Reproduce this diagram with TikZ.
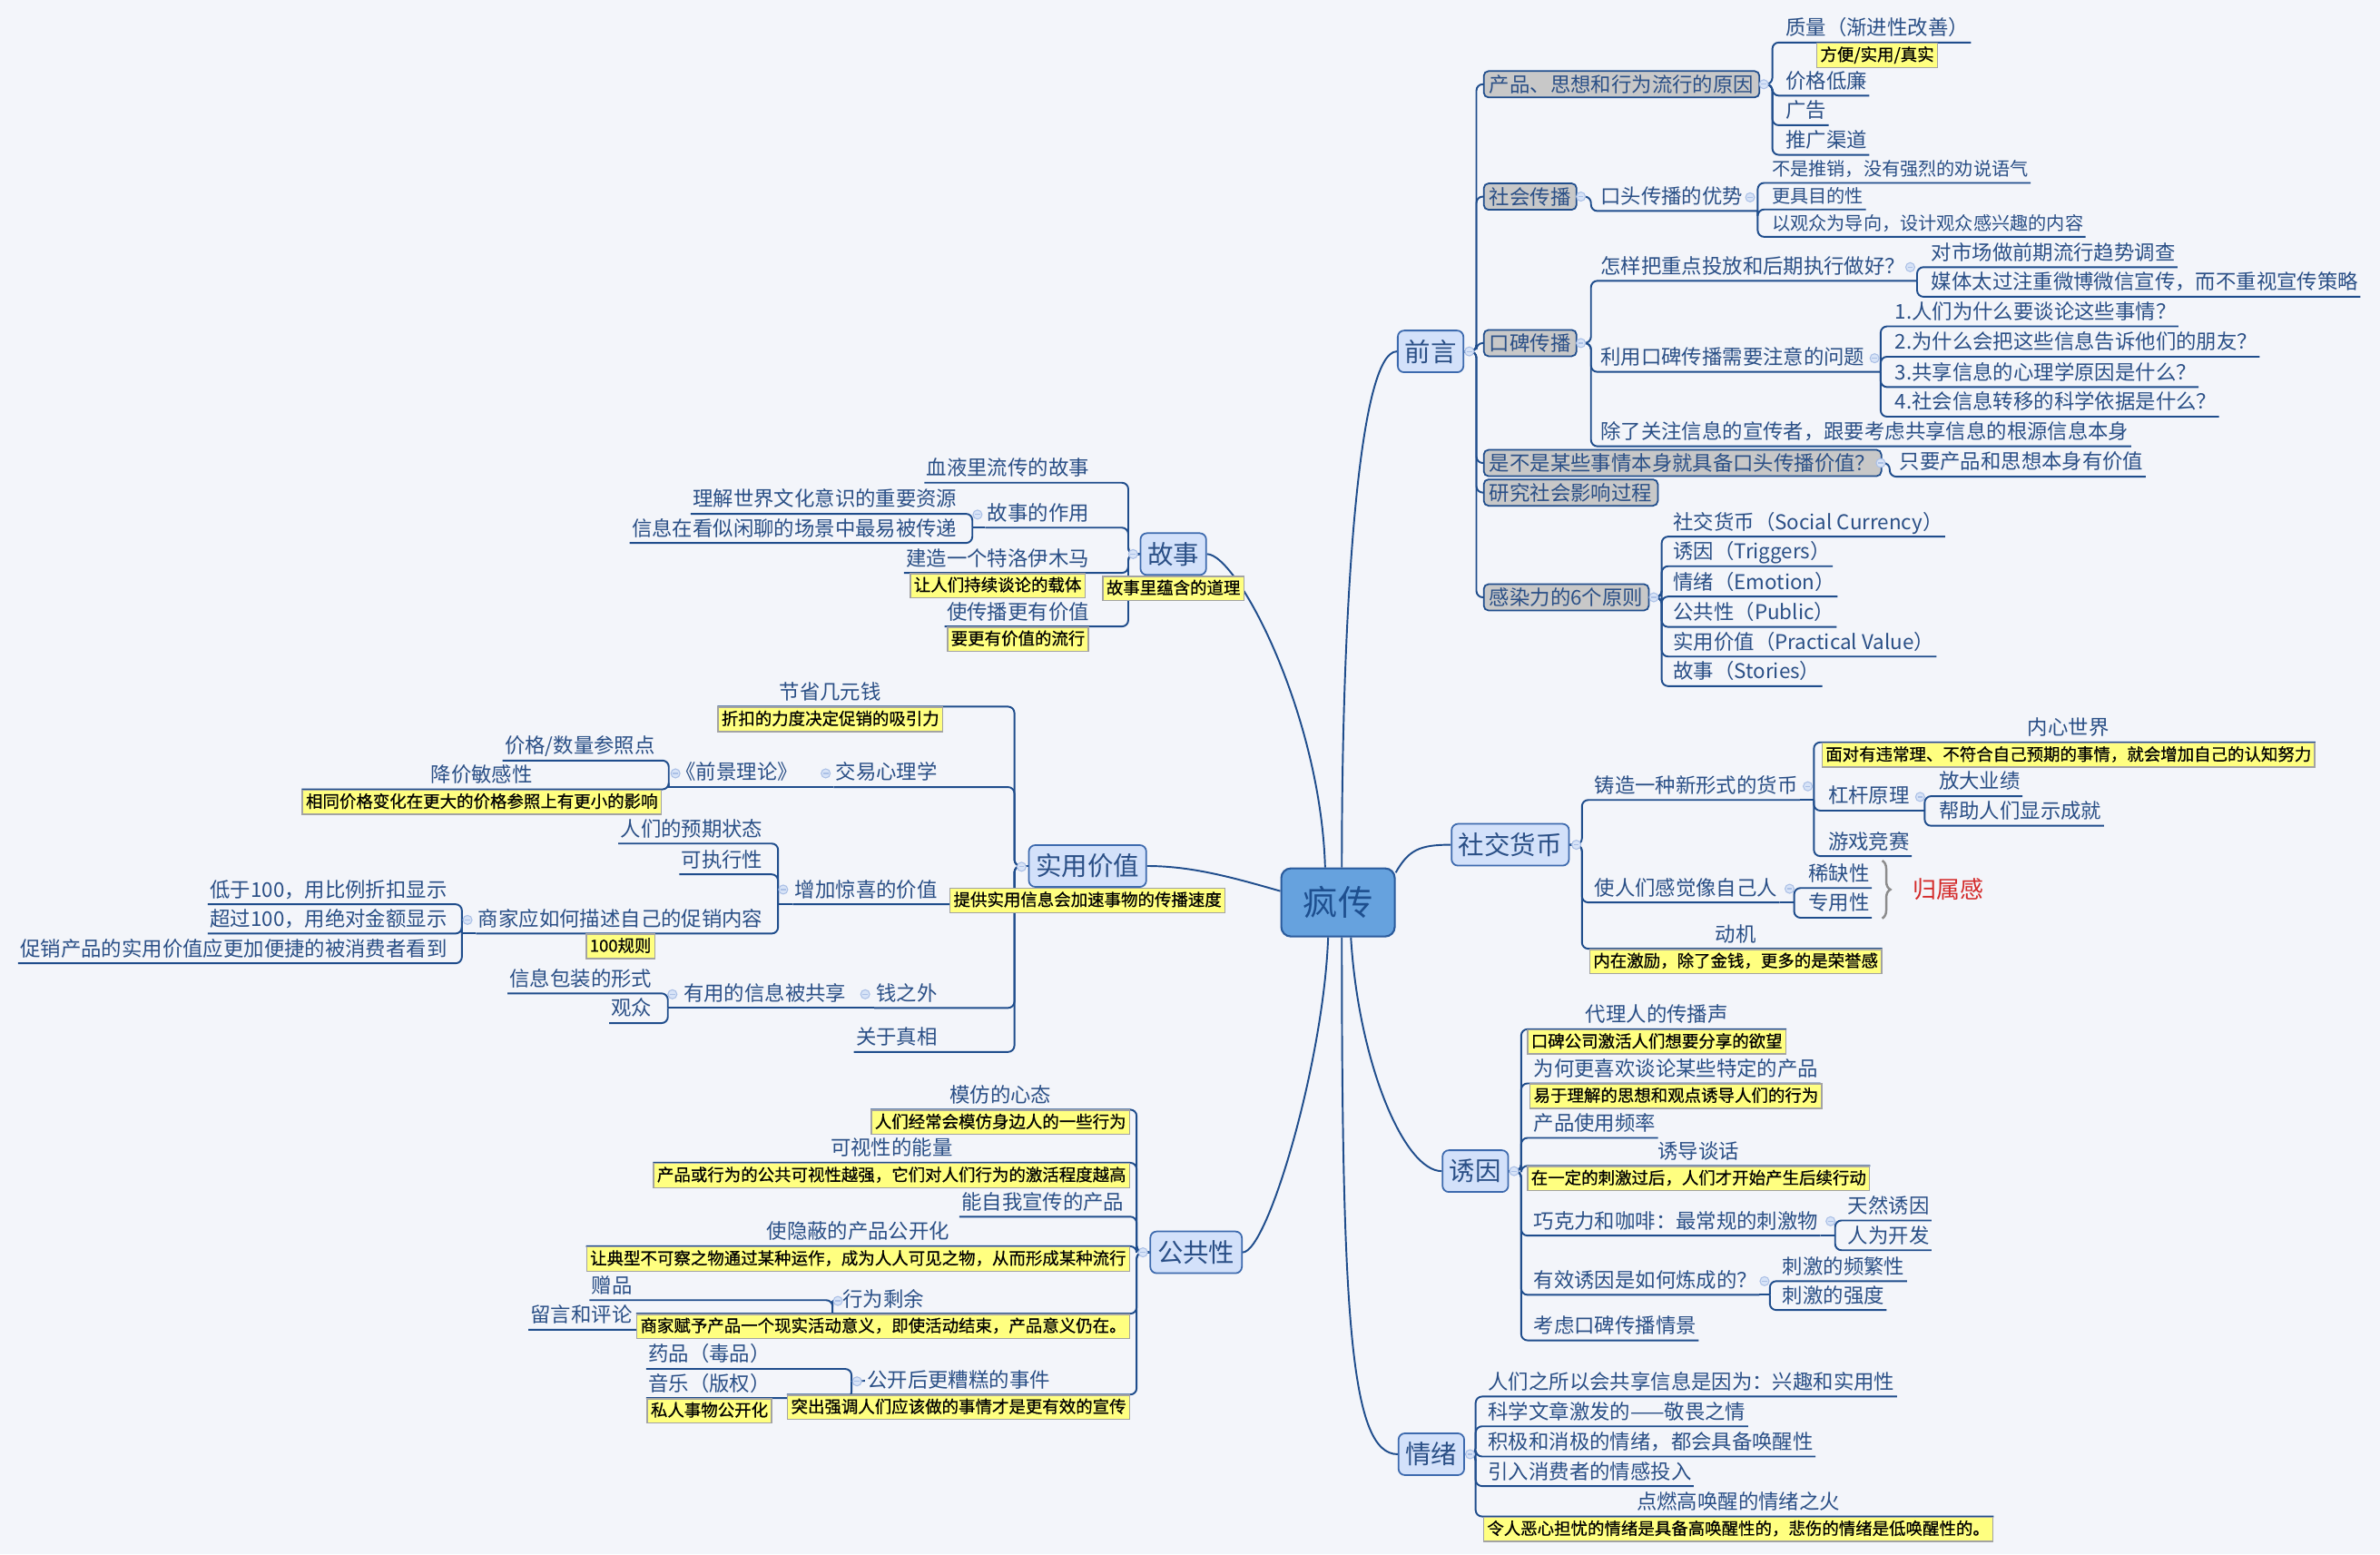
\documentclass[tikz,border=0pt]{standalone}
\usepackage{fontspec}
\setmainfont{Noto Sans CJK SC}
\newfontfamily\notefont{Noto Sans CJK SC}[FakeBold=0.6]
\usetikzlibrary{positioning, backgrounds, decorations.pathreplacing}

\definecolor{paper}{HTML}{F3F5FA}
\definecolor{linkc}{HTML}{1F4D8C}
\definecolor{ink}{HTML}{2A4F86}
\definecolor{topicfill}{HTML}{D3E1FA}
\definecolor{topicedge}{HTML}{3D6AAE}
\definecolor{rootfill}{HTML}{66A2DE}
\definecolor{rootedge}{HTML}{2A5B9C}
\definecolor{rootink}{HTML}{1E4F8F}
\definecolor{sectfill}{HTML}{C8C8C8}
\definecolor{notefill}{HTML}{FFFF80}
\definecolor{noteedge}{HTML}{A3A3A3}
\definecolor{foldfill}{HTML}{D7E3F7}
\definecolor{foldedge}{HTML}{ABC0E6}
\definecolor{bracec}{HTML}{8C8C8C}
\definecolor{kinred}{HTML}{D42A2A}

\tikzset{
  % boxes
  root/.style    = {draw=rootedge, fill=rootfill, rounded corners=3pt, text=rootink, line width=0.6pt,
                    font=\fontsize{10.9}{12}\selectfont, minimum width=1.25cm, minimum height=0.75cm},
  topic/.style   = {draw=topicedge, fill=topicfill, rounded corners=2pt, text=ink, line width=0.5pt,
                    font=\fontsize{8.1}{9}\selectfont, inner xsep=2.2pt, inner ysep=0pt, minimum height=0.46cm},
  section/.style = {draw=linkc, fill=sectfill, rounded corners=1.5pt, text=ink, line width=0.5pt, anchor=west,
                    font=\fontsize{6.37}{7}\selectfont, inner xsep=1.8pt, inner ysep=0pt, minimum height=0.29cm},
  note/.style    = {draw=noteedge, fill=notefill, text=black, line width=0.4pt,
                    font=\notefont\fontsize{5.25}{6}\selectfont, text height=4.3pt, text depth=0.9pt,
                    inner xsep=1.1pt, inner ysep=0pt, minimum height=0.267cm},
  % texts sitting on a line
  item/.style    = {text=ink, font=\fontsize{6.37}{7}\selectfont, text height=5.2pt, text depth=1.2pt,
                    inner xsep=0.5pt, inner ysep=0.9pt},
  ritem/.style   = {item, anchor=south west},
  litem/.style   = {item, anchor=south east},
  minor/.style   = {font=\fontsize{5.74}{6.5}\selectfont, text height=4.7pt, text depth=1.1pt},
  kin/.style     = {text=kinred, font=\fontsize{7.4}{8}\selectfont, inner sep=0pt},
  % lines
  link/.style    = {draw=linkc, line width=0.55pt, rounded corners=2pt},
  trunk/.style   = {draw=linkc, line width=0.55pt},
  curly/.style   = {draw=bracec, line width=0.7pt, decorate, decoration={brace, amplitude=0.09cm}},
  fold/.style    = {draw=foldedge, fill=foldfill, line width=0.3pt},
  foldbar/.style = {draw=foldedge, line width=0.35pt},
}

\begin{document}
\begin{tikzpicture}[x=0.01672cm, y=-0.01672cm]
\useasboundingbox (0,0) rectangle (1568,1024);
\begin{scope}[on background layer]
  \fill[paper] (0,0) rectangle (1568,1024);
\end{scope}

% ---------- Centre + main topics ----------
\node[root] (root) at (881.5,594.5) {疯传};

\node[topic] (intro)     at (942.5,231.5) {前言};
\node[topic] (currency)  at (995,556.5)   {社交货币};
\node[topic] (trigger)   at (972,771.5)   {诱因};
\node[topic] (emotion)   at (943,958)     {情绪};
\node[topic] (story)     at (773,365)     {故事};
\node[topic] (practical) at (716.5,570.5) {实用价值};
\node[topic] (public)    at (788,825)     {公共性};
\node[note, below=0pt of story]     (story-n)     {故事里蕴含的道理};
\node[note, below=0pt of practical] (practical-n) {提供实用信息会加速事物的传播速度};

% ---------- 前言 ----------
\node[section] (why)    at (977,55.5)  {产品、思想和行为流行的原因};
\node[section] (social) at (977,129.5) {社会传播};
\node[section] (wom)    at (977,226)   {口碑传播};
\node[section] (worth)  at (977,305)   {是不是某些事情本身就具备口头传播价值？};
\node[section] (study)  at (977,324.5) {研究社会影响过程};
\node[section] (six)    at (977,393.5) {感染力的6个原则};

\node[ritem] (quality) at (1175,28)   {质量（渐进性改善）};
\node[note, below=0pt of quality] (quality-n) {方便/实用/真实};
\node[ritem] (cheap)   at (1175,63)   {价格低廉};
\node[ritem] (advert)  at (1175,82.5) {广告};
\node[ritem] (channel) at (1175,102)  {推广渠道};

\node[ritem] (oral) at (1053,139) {口头传播的优势};
\coordinate (oral-x) at (1158,139);
\node[ritem, minor] (nopush)   at (1166,120.5) {不是推销，没有强烈的劝说语气};
\node[ritem, minor] (purpose)  at (1166,138)   {更具目的性};
\node[ritem, minor] (audience) at (1166,156)   {以观众为导向，设计观众感兴趣的内容};

\node[ritem] (how) at (1053,185) {怎样把重点投放和后期执行做好？};
\coordinate (how-x) at (1263,185);
\node[ritem] (survey) at (1271,176)   {对市场做前期流行趋势调查};
\node[ritem] (media)  at (1271,195.5) {媒体太过注重微博微信宣传，而不重视宣传策略};
\node[ritem] (issue) at (1053,245) {利用口碑传播需要注意的问题};
\coordinate (issue-x) at (1239,245);
\node[ritem] (q1) at (1247,215)   {1.人们为什么要谈论这些事情？};
\node[ritem] (q2) at (1247,235)   {2.为什么会把这些信息告诉他们的朋友？};
\node[ritem] (q3) at (1247,255)   {3.共享信息的心理学原因是什么？};
\node[ritem] (q4) at (1247,274.5) {4.社会信息转移的科学依据是什么？};
\node[ritem] (source) at (1053,294) {除了关注信息的宣传者，跟要考虑共享信息的根源信息本身};
\node[ritem] (valued) at (1250,314) {只要产品和思想本身有价值};

\node[ritem] (sc) at (1101,353.5) {社交货币（Social Currency）};
\node[ritem] (tr) at (1101,373)   {诱因（Triggers）};
\node[ritem] (em) at (1101,393)   {情绪（Emotion）};
\node[ritem] (pu) at (1101,413)   {公共性（Public）};
\node[ritem] (pv) at (1101,432.5) {实用价值（Practical Value）};
\node[ritem] (st) at (1101,452)   {故事（Stories）};

% ---------- 社交货币 ----------
\node[ritem] (mint) at (1049,527) {铸造一种新形式的货币};
\coordinate (mint-x) at (1195,527);
\node[note, anchor=north west] (inner-n) at (1200,489) {面对有违常理、不符合自己预期的事情，就会增加自己的认知努力};
\node[item, above=0pt of inner-n] (inner) {内心世界};
\node[ritem] (lever) at (1203,534) {杠杆原理};
\coordinate (lever-x) at (1268,534);
\node[ritem] (amplify) at (1276,524.5) {放大业绩};
\node[ritem] (show)    at (1276,544)   {帮助人们显示成就};
\node[ritem] (game) at (1203,564) {游戏竞赛};
\node[ritem] (insider) at (1049,594.5) {使人们感觉像自己人};
\coordinate (insider-x) at (1182,594.5);
\node[ritem] (scarce)    at (1190,585)   {稀缺性};
\node[ritem] (exclusive) at (1190,604.6) {专用性};
\node[kin] (belong) at (1283.5,586) {归属感};
\node[note, anchor=north west] (motive-n) at (1047,625) {内在激励，除了金钱，更多的是荣誉感};
\node[item, above=0pt of motive-n] (motive) {动机};

% ---------- 诱因 ----------
\node[note, anchor=north west] (proxy-n) at (1006,678) {口碑公司激活人们想要分享的欲望};
\node[item, above=0pt of proxy-n] (proxy) {代理人的传播声};
\node[ritem] (talk) at (1009,713.7) {为何更喜欢谈论某些特定的产品};
\node[note, below=0pt of talk] (talk-n) {易于理解的思想和观点诱导人们的行为};
\node[ritem] (freq) at (1009,749.6) {产品使用频率};
\node[note, anchor=north west] (induce-n) at (1006,768) {在一定的刺激过后，人们才开始产生后续行动};
\node[item, above=0pt of induce-n] (induce) {诱导谈话};
\node[ritem] (choco) at (1009,814) {巧克力和咖啡：最常规的刺激物};
\coordinate (choco-x) at (1209,814);
\node[ritem] (natural) at (1216,804)   {天然诱因};
\node[ritem] (made)    at (1216,823.6) {人为开发};
\node[ritem] (effect) at (1009,853) {有效诱因是如何炼成的？};
\coordinate (effect-x) at (1166,853);
\node[ritem] (often)  at (1173,844) {刺激的频繁性};
\node[ritem] (strong) at (1173,863) {刺激的强度};
\node[ritem] (scene) at (1009,883) {考虑口碑传播情景};

% ---------- 情绪 ----------
\node[ritem] (share)   at (979,920)   {人们之所以会共享信息是因为：兴趣和实用性};
\node[ritem] (awe)     at (979,939.6) {科学文章激发的——敬畏之情};
\node[ritem] (arousal) at (979,959.5) {积极和消极的情绪，都会具备唤醒性};
\node[ritem] (invest)  at (979,979)   {引入消费者的情感投入};
\node[note, anchor=north west] (fire-n) at (977,999) {令人恶心担忧的情绪是具备高唤醒性的，悲伤的情绪是低唤醒性的。};
\node[item, above=0pt of fire-n] (fire) {点燃高唤醒的情绪之火};

% ---------- 故事 ----------
\node[litem] (blood) at (719,318) {血液里流传的故事};
\node[litem] (role)  at (719,347.6) {故事的作用};
\coordinate (role-x) at (640.6,347.6);
\node[litem] (culture) at (632,338.5) {理解世界文化意识的重要资源};
\node[litem] (chat)    at (632,357.7) {信息在看似闲聊的场景中最易被传递};
\node[litem] (trojan) at (719,377.4) {建造一个特洛伊木马};
\node[note, below=0pt of trojan] (trojan-n) {让人们持续谈论的载体};
\node[litem] (value) at (719,412.7) {使传播更有价值};
\node[note, below=0pt of value] (value-n) {要更有价值的流行};

% ---------- 实用价值 ----------
\node[note, anchor=north east] (save-n) at (621.5,465.5) {折扣的力度决定促销的吸引力};
\node[item, above=0pt of save-n] (save) {节省几元钱};
\node[litem] (trade) at (619,518.5) {交易心理学};
\coordinate (trade-x) at (543.6,518.5);
\node[litem] (prospect) at (527,518.5) {《前景理论》};
\coordinate (prospect-x) at (440.6,518.5);
\node[litem] (refpoint) at (433,501) {价格/数量参照点};
\node[note, anchor=north east] (sensitive-n) at (436,520) {相同价格变化在更大的价格参照上有更小的影响};
\node[item, above=0pt of sensitive-n] (sensitive) {降价敏感性};
\node[litem] (surprise) at (619,595.7) {增加惊喜的价值};
\coordinate (surprise-x) at (512.6,595.7);
\node[litem] (expect)   at (504,555.7) {人们的预期状态};
\node[litem] (doable)   at (504,576)   {可执行性};
\node[litem] (describe) at (504,615)   {商家应如何描述自己的促销内容};
\node[note, below=0pt of describe] (describe-n) {100规则};
\coordinate (describe-x) at (304.3,615);
\node[litem] (below100) at (296,595.7) {低于100，用比例折扣显示};
\node[litem] (above100) at (296,615)   {超过100，用绝对金额显示};
\node[litem] (visible)  at (296,634.6) {促销产品的实用价值应更加便捷的被消费者看到};
\node[litem] (beyond) at (619,664) {钱之外};
\coordinate (beyond-x) at (570,664);
\node[litem] (useful) at (559,664) {有用的信息被共享};
\coordinate (useful-x) at (440,664);
\node[litem] (pack)   at (431,654.4) {信息包装的形式};
\node[litem] (viewer) at (431,674)   {观众};
\node[litem] (truth) at (619,693) {关于真相};

% ---------- 公共性 ----------
\node[note, anchor=north east] (imitate-n) at (744.6,731) {人们经常会模仿身边人的一些行为};
\node[item, above=0pt of imitate-n] (imitate) {模仿的心态};
\node[note, anchor=north east] (visib-n) at (744.6,766) {产品或行为的公共可视性越强，它们对人们行为的激活程度越高};
\node[item, above=0pt of visib-n] (visib) {可视性的能量};
\node[litem] (selfpro) at (742,801.5) {能自我宣传的产品};
\node[note, anchor=north east] (reveal-n) at (744.6,821) {让典型不可察之物通过某种运作，成为人人可见之物，从而形成某种流行};
\node[item, above=0pt of reveal-n] (reveal) {使隐蔽的产品公开化};
\node[note, anchor=north east] (residue-n) at (744.6,865.4) {商家赋予产品一个现实活动意义，即使活动结束，产品意义仍在。};
\node[item, above=0pt of residue-n] (residue) {行为剩余};
\coordinate (residue-x) at (548.5,857);
\node[litem] (gift)    at (418,856.5) {赠品};
\node[litem] (comment) at (418,876)   {留言和评论};
\node[note, anchor=north east] (worse-n) at (744.6,918.7) {突出强调人们应该做的事情才是更有效的宣传};
\node[item, above=0pt of worse-n] (worse) {公开后更糟糕的事件};
\coordinate (worse-x) at (561,910);
\node[litem] (drug)  at (509,901.8) {药品（毒品）};
\node[litem] (music) at (509,921)   {音乐（版权）};
\node[note, below=0pt of music] (music-n) {私人事物公开化};

% ---------- Connectors ----------
\begin{scope}[on background layer]
  % centre -> topics
  \draw[trunk] ([xshift=0.042cm]root.north) .. controls (884,400) and (895,231.5) .. (intro.west);
  \draw[trunk] ([xshift=-0.142cm]root.north) .. controls (870,470) and (815,365) .. (story.east);
  \draw[trunk] ([yshift=0.125cm]root.west) .. controls (812,578) and (785,570.5) .. (practical.east);
  \draw[trunk] ([yshift=-0.057cm]root.north east) .. controls (928,560) and (935,556.5) .. (currency.west);
  \draw[trunk] ([xshift=0.142cm]root.south) .. controls (895,700) and (925,771.5) .. (trigger.west);
  \draw[trunk] ([xshift=0.042cm]root.south) .. controls (884,870) and (890,958) .. (emotion.west);
  \draw[trunk] ([xshift=-0.109cm]root.south) .. controls (872,700) and (835,825) .. (public.east);

  % 前言
  \foreach \b in {why, social, wom, worth, study, six}
    \draw[link] (intro.east) -- ++(8,0) |- (\b.west);
  \foreach \c in {quality, cheap, advert, channel}
    \draw[link] (why.east) -- ++(8,0) |- (\c.south east);
  \draw[link] (social.east) -- ++(9,0) |- (oral.south east) -- (oral-x);
  \foreach \c in {nopush, purpose, audience}
    \draw[link] (oral-x) |- (\c.south east);
  \draw[link] (wom.east) -- ++(9,0) |- (how.south east) -- (how-x);
  \draw[link] (wom.east) -- ++(9,0) |- (issue.south east) -- (issue-x);
  \draw[link] (wom.east) -- ++(9,0) |- (source.south east);
  \foreach \c in {survey, media}
    \draw[link] (how-x) |- (\c.south east);
  \foreach \c in {q1, q2, q3, q4}
    \draw[link] (issue-x) |- (\c.south east);
  \draw[link] (worth.east) -- ++(5,0) |- (valued.south east);
  \foreach \c in {sc, tr, em, pu, pv, st}
    \draw[link] (six.east) -- ++(8,0) |- (\c.south east);

  % 社交货币
  \foreach \c in {mint.south east, insider.south east, motive-n.north east}
    \draw[link] (currency.east) -- ++(8,0) |- (\c);
  \draw[link] (mint.south east) -- (mint-x);
  \draw[link] (insider.south east) -- (insider-x);
  \foreach \c in {inner-n.north east, lever.south east, game.south east}
    \draw[link] (mint-x) |- (\c);
  \draw[link] (lever.south east) -- (lever-x);
  \foreach \c in {amplify, show}
    \draw[link] (lever-x) |- (\c.south east);
  \foreach \c in {scarce, exclusive}
    \draw[link] (insider-x) |- (\c.south east);

  % 诱因
  \foreach \c in {proxy-n.north east, talk.south east, freq.south east, induce-n.north east,
                  choco.south east, effect.south east, scene.south east}
    \draw[link] (trigger.east) -- ++(8,0) |- (\c);
  \draw[link] (choco.south east) -- (choco-x);
  \draw[link] (effect.south east) -- (effect-x);
  \foreach \c in {natural, made}
    \draw[link] (choco-x) |- (\c.south east);
  \foreach \c in {often, strong}
    \draw[link] (effect-x) |- (\c.south east);

  % 情绪
  \foreach \c in {share.south east, awe.south east, arousal.south east, invest.south east, fire-n.north east}
    \draw[link] (emotion.east) -- ++(7,0) |- (\c);

  % 故事
  \foreach \c in {blood, role, trojan, value}
    \draw[link] (story.west) -- ++(-7.5,0) |- (\c.south west);
  \draw[link] (role.south west) -- (role-x);
  \foreach \c in {culture, chat}
    \draw[link] (role-x) |- (\c.south west);

  % 实用价值
  \foreach \c in {save-n.north west, trade.south west, surprise.south west, beyond.south west, truth.south west}
    \draw[link] (practical.west) -- ++(-9,0) |- (\c);
  \draw[link] (trade.south west) -- (trade-x) -- (prospect.south west) -- (prospect-x);
  \draw[link] (prospect-x) |- (refpoint.south west);
  \draw[link] (prospect-x) |- (sensitive-n.north west);
  \draw[link] (surprise.south west) -- (surprise-x);
  \foreach \c in {expect, doable, describe}
    \draw[link] (surprise-x) |- (\c.south west);
  \draw[link] (describe.south west) -- (describe-x);
  \foreach \c in {below100, above100, visible}
    \draw[link] (describe-x) |- (\c.south west);
  \draw[link] (beyond.south west) -- (beyond-x) -- (useful.south west) -- (useful-x);
  \foreach \c in {pack, viewer}
    \draw[link] (useful-x) |- (\c.south west);

  % 公共性
  \foreach \c in {imitate-n.north west, visib-n.north west, selfpro.south west,
                  reveal-n.north west, residue-n.north west, worse-n.north west}
    \draw[link] (public.west) -- ++(-8.5,0) |- (\c);
  \draw[link] (residue.west) -- (residue-x);
  \foreach \c in {gift, comment}
    \draw[link] (residue-x) |- (\c.south west);
  \draw[link] (worse.west) -- (worse-x);
  \foreach \c in {drug, music}
    \draw[link] (worse-x) |- (\c.south west);
\end{scope}

% brace for 归属感
\draw[curly] (1240,567) -- (1240,605);

% fold markers
\foreach \x/\y in {968/231.5, 1162/55.5, 1041.5/129.5, 1153/130, 1041.5/226, 1258.5/176, 1235/236,
                   1239/305, 1089.5/393.5, 1038.5/556.5, 1191/518, 1265/525, 1179/585.5,
                   997.5/771.5, 1206/804.5, 1162.5/844, 968.5/958, 746.5/365, 644/339, 673/571,
                   544/509.5, 445/509.5, 516/586, 308/606, 570/655, 443/655, 753/825, 552/857, 564.6/910}
  {\draw[fold] (\x,\y) circle[radius=0.05cm];
   \draw[foldbar] (\x-1.7,\y) -- (\x+1.7,\y);}

\end{tikzpicture}
\end{document}
